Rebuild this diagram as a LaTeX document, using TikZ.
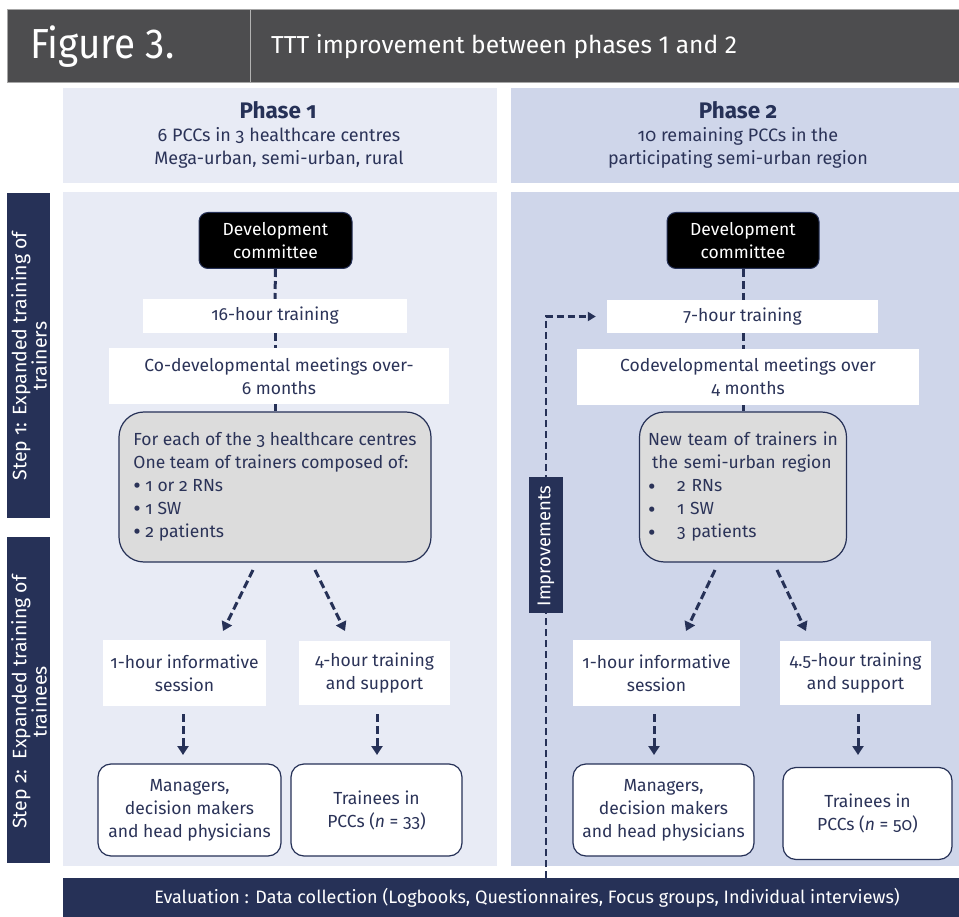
\documentclass[tikz,border=0pt]{standalone}
\usepackage{fontspec}
\setmainfont{Fira Sans}[Numbers=OldStyle]
\newfontfamily\lining{Fira Sans}
\newfontfamily\liningcond{Fira Sans}[FakeStretch=0.92]
\usetikzlibrary{arrows.meta,calc}
\definecolor{navy}{HTML}{263157}
\definecolor{txt}{HTML}{2B3358}
\definecolor{hdr}{HTML}{4D4D4F}
\definecolor{pone}{HTML}{E8EBF5}
\definecolor{ptwo}{HTML}{CFD6EA}
\definecolor{gbg}{HTML}{DCDCDC}
\newcommand{\bul}{\raisebox{-2.2pt}{\fontsize{23}{23}\selectfont\textbullet}}
\tikzset{
  body/.style={font=\fontsize{17.5}{23}\selectfont, text=txt},
  wbox/.style={body, fill=white, inner sep=0pt, align=center},
  rbox/.style={wbox, draw=navy, line width=1.2pt, rounded corners=13pt},
  gbox/.style={body, fill=gbg, draw=navy, line width=1.2pt, rounded corners=25pt, inner sep=0pt, align=left},
  devbox/.style={fill=black, draw=navy, line width=1pt, rounded corners=9pt, text=white, align=center,
    font=\fontsize{17.5}{23}\selectfont, inner sep=0pt, minimum width=153pt, minimum height=56pt},
  dline/.style={draw=navy, line width=3pt, dash pattern=on 8pt off 4pt},
  darrow/.style={dline, -{Triangle[width=11pt,length=9pt]}},
  iline/.style={draw=navy, line width=2.6pt, dash pattern=on 7pt off 4pt, -{Triangle[width=9pt,length=8pt]}},
  navybar/.style={fill=navy, text=white, inner sep=0pt, align=center}
}
\begin{document}
\begin{tikzpicture}[x=1pt,y=-1pt]
\useasboundingbox (0,0) rectangle (959,917);
\fill[white] (0,0) rectangle (959,917);
% header
\node[fill=hdr, draw=gray!70, line width=0.8pt, minimum width=952pt, minimum height=73pt, inner sep=0pt] (hd) at (483,46) {};
\draw[gray!60, line width=1pt] (250,10) -- (250,82);
\node[text=white, font=\liningcond\fontsize{42}{44}\selectfont, anchor=west, inner sep=0pt] (fig) at (30,47) {Figure 3.};
\node[text=white, font=\lining\fontsize{24.6}{26}\selectfont, anchor=west, inner sep=0pt] (ttl) at (271,47) {TTT improvement between phases 1 and 2};
% phase headers
\fill[pone] (63,88) rectangle (497,183);
\fill[ptwo] (511,88) rectangle (959,183);
\node[body, font=\bfseries\fontsize{22.5}{26}\selectfont, text=navy] (ph1) at (278,110) {Phase 1};
\node[body, font=\fontsize{18}{22.5}\selectfont, align=center] (ph1s) at (279,148) {6 PCCs in 3 healthcare centres\\Mega-urban, semi-urban, rural};
\node[body, font=\bfseries\fontsize{22.5}{26}\selectfont, text=navy] (ph2) at (738,110) {Phase 2};
\node[body, font=\fontsize{18}{22.5}\selectfont, align=center] (ph2s) at (738,148) {10 remaining PCCs in the\\participating semi-urban region};
% panels
\fill[pone] (63,192) rectangle (497,866);
\fill[ptwo] (511,192) rectangle (959,866);
% step bars
\node[navybar, minimum width=43pt, minimum height=325pt] (s1bar) at (28.5,355.5) {};
\node[navybar, rotate=90, font=\fontsize{19.5}{18}\selectfont] (s1t) at (29,356) {Step 1: Expanded training of\\trainers};
\node[navybar, minimum width=43pt, minimum height=326pt] (s2bar) at (28.5,700) {};
\node[navybar, rotate=90, font=\fontsize{19.5}{18}\selectfont] (s2t) at (29,702) {Step 2:\ \ Expanded training of\\trainees};
% evaluation bar
\node[navybar, minimum width=896pt, minimum height=39pt] (ev) at (511,897.5) {};
\node[text=white, font=\fontsize{18}{20}\selectfont] (evt) at (527,897.5) {Evaluation : Data collection (Logbooks, Questionnaires, Focus groups, Individual interviews)};

% ---------- Phase 1 ----------
\node[devbox] (dev1) at (275.5,240.5) {Development\\committee};
\node[wbox, minimum width=264pt, minimum height=34pt] (t1) at (275,316) {16-hour training};
\node[wbox, minimum width=340pt, minimum height=56pt] (c1) at (279,376) {Co-developmental meetings over-\\6 months};
\node[gbox, minimum width=312pt, minimum height=150pt] (g1) at (275,487) {For each of the 3 healthcare centres\\One team of trainers composed of:\\\bul\ 1 or 2 RNs\\\bul\ 1 SW\\\bul\ 2 patients};
\node[wbox, minimum width=163pt, minimum height=66pt] (i1) at (184.5,673) {1-hour informative\\session};
\node[wbox, minimum width=151pt, minimum height=64pt] (h1) at (374.5,673) {4-hour training\\and support};
\node[rbox, minimum width=183pt, minimum height=92pt] (m1) at (189.5,810) {Managers,\\decision makers\\and head physicians};
\node[rbox, minimum width=171pt, minimum height=92pt] (p1) at (376.5,810) {Trainees in\\PCCs (\textit{n} = 33)};

\draw[dline] (dev1.south) -- (t1.north);
\draw[dline] (t1.south) -- (c1.north -| t1.south);
\draw[dline] (c1.south -| t1.south) -- (g1.north -| t1.south);
\coordinate (a1s) at (253,570); \coordinate (a1e) at (223,631);
\coordinate (a2s) at (315,570); \coordinate (a2e) at (345,631);
\draw[darrow] (a1s) -- (a1e);
\draw[darrow] (a2s) -- (a2e);
\coordinate (d1s) at (183,714); \coordinate (d1e) at (183,755);
\coordinate (d2s) at (377,714); \coordinate (d2e) at (377,755);
\draw[darrow] (d1s) -- (d1e);
\draw[darrow] (d2s) -- (d2e);

% ---------- Phase 2 ----------
\node[devbox, minimum width=152pt] (dev2) at (743,240.5) {Development\\committee};
\node[wbox, minimum width=271pt, minimum height=33pt] (t2) at (742.5,316.5) {7-hour training};
\node[wbox, minimum width=342pt, minimum height=56pt] (c2) at (748,377) {Codevelopmental meetings over\\4 months};
\node[gbox, text width=190pt, inner xsep=8.5pt, minimum height=150pt] (g2) at (743,487) {New team of trainers in\\\hspace*{4pt}the semi-urban region\\\makebox[29pt][l]{\bul}2 RNs\\\makebox[29pt][l]{\bul}1 SW\\\makebox[29pt][l]{\bul}3 patients};
\node[wbox, minimum width=167pt, minimum height=66pt] (i2) at (656.5,673) {1-hour informative\\session};
\node[wbox, minimum width=151pt, minimum height=64pt] (h2) at (855.5,673) {4.5-hour training\\and support};
\node[rbox, minimum width=181pt, minimum height=92pt] (m2) at (663.5,810) {Managers,\\decision makers\\and head physicians};
\node[rbox, minimum width=169pt, minimum height=92pt] (p2) at (867.5,813.5) {Trainees in\\PCCs (\textit{n} = 50)};

\draw[dline] (dev2.south) -- (t2.north -| dev2.south);
\draw[dline] (t2.south -| dev2.south) -- (c2.north -| dev2.south);
\draw[dline] (c2.south -| dev2.south) -- (g2.north -| dev2.south);
\coordinate (b1s) at (715,570); \coordinate (b1e) at (686,631);
\coordinate (b2s) at (777,570); \coordinate (b2e) at (806,631);
\draw[darrow] (b1s) -- (b1e);
\draw[darrow] (b2s) -- (b2e);
\coordinate (e1s) at (654,714); \coordinate (e1e) at (654,755);
\coordinate (e2s) at (858,714); \coordinate (e2e) at (858,755);
\draw[darrow] (e1s) -- (e1e);
\draw[darrow] (e2s) -- (e2e);

% improvements
\coordinate (ic) at (546,878);
\draw[iline, shorten >=11pt] (ic) |- (t2.west);
\node[navybar, minimum width=34pt, minimum height=136pt] (imp) at (546,545) {};
\node[navybar, rotate=90, font=\fontsize{18.5}{20}\selectfont] (impt) at (546,546) {Improvements};
\end{tikzpicture}
\end{document}
